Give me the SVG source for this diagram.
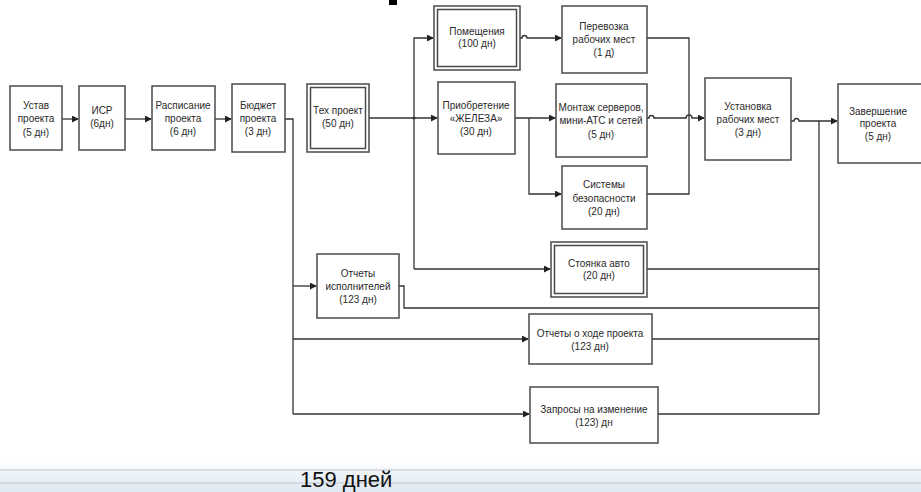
<svg xmlns="http://www.w3.org/2000/svg" width="921" height="492" viewBox="0 0 921 492">
<defs>
<marker id="arr" viewBox="0 0 8 8" refX="7" refY="4" markerWidth="7" markerHeight="7" markerUnits="userSpaceOnUse" orient="auto">
<path d="M0,0 L8,4 L0,8 Z" fill="#222"/>
</marker>
<linearGradient id="band" x1="0" y1="0" x2="0" y2="1">
<stop offset="0" stop-color="#ffffff"/>
<stop offset="0.3" stop-color="#f0f4f8"/>
<stop offset="1" stop-color="#dfe9f3"/>
</linearGradient>
</defs>
<style>
.box{fill:#fff;stroke:#4a4a4a;stroke-width:1.5}
.t{font-family:"Liberation Sans",Arial,sans-serif;font-size:10px;fill:#2a2a2a;text-anchor:middle}
.c{fill:none;stroke:#333;stroke-width:1.3}
</style>
<rect x="0" y="0" width="921" height="492" fill="#fff"/>
<rect x="0" y="462" width="921" height="30" fill="url(#band)"/>
<line x1="0" y1="470" x2="921" y2="470" stroke="#c4c8cc" stroke-width="1"/>
<line x1="0" y1="483" x2="921" y2="483" stroke="#c0c6cc" stroke-width="1"/>
<rect x="389" y="0" width="8" height="5" fill="#000"/>

<g id="connectors">
<path class="c" d="M62,119 H78" marker-end="url(#arr)"/>
<path class="c" d="M125,119 H151" marker-end="url(#arr)"/>
<path class="c" d="M215,119 H231" marker-end="url(#arr)"/>
<path class="c" d="M285,119 H293 V414"/>
<path class="c" d="M369,118 H437" marker-end="url(#arr)"/>
<circle cx="414" cy="118" r="1.6" fill="#333"/>
<path class="c" d="M414,269 V38 H433" marker-end="url(#arr)"/>
<path class="c" d="M414,269 H550" marker-end="url(#arr)"/>
<path class="c" d="M520,38 H522 a2.5,2.5 0 0 1 5,0 H561" marker-end="url(#arr)"/>
<path class="c" d="M515,118 H555" marker-end="url(#arr)"/>
<path class="c" d="M529,118 V194 H561" marker-end="url(#arr)"/>
<path class="c" d="M647,38 H689 V194 H647"/>
<path class="c" d="M647,118 H649 a2.5,2.5 0 0 1 5,0 H686 a3,3 0 0 1 6,0 H704" marker-end="url(#arr)"/>
<path class="c" d="M791,121 H794 a2.5,2.5 0 0 1 5,0 H837" marker-end="url(#arr)"/>
<path class="c" d="M819,121 V414"/>
<path class="c" d="M647,269 H819"/>
<path class="c" d="M293,286 H316" marker-end="url(#arr)"/>
<path class="c" d="M399,286 H404 V308 H819"/>
<path class="c" d="M293,339 H528" marker-end="url(#arr)"/>
<path class="c" d="M652,339 H819"/>
<path class="c" d="M293,414 H529" marker-end="url(#arr)"/>
<path class="c" d="M658,414 H819"/>
</g>

<g id="n-ustav"><rect class="box" x="10" y="86" width="52" height="64"/>
<text class="t" x="36" y="109">Устав</text><text class="t" x="36" y="122">проекта</text><text class="t" x="36" y="136">(5 дн)</text></g>
<g id="n-isr"><rect class="box" x="79" y="86" width="46" height="64"/>
<text class="t" x="102" y="114">ИСР</text><text class="t" x="102" y="127">(6дн)</text></g>
<g id="n-raspisanie"><rect class="box" x="152" y="86" width="63" height="64"/>
<text class="t" x="183" y="108.5">Расписание</text><text class="t" x="183" y="121.5">проекта</text><text class="t" x="183" y="134.5">(6 дн)</text></g>
<g id="n-budget"><rect class="box" x="232" y="84" width="53" height="68"/>
<text class="t" x="258" y="108.5">Бюджет</text><text class="t" x="258" y="121.5">проекта</text><text class="t" x="258" y="134.5">(3 дн)</text></g>
<g id="n-tech"><rect class="box" x="307" y="84" width="62" height="68"/><rect class="box" x="310.5" y="87.5" width="55" height="61"/>
<text class="t" x="338" y="113.5">Тех проект</text><text class="t" x="338" y="126.5">(50 дн)</text></g>
<g id="n-pomesh"><rect class="box" x="434" y="6" width="86" height="64"/><rect class="box" x="437.5" y="9.5" width="79" height="57"/>
<text class="t" x="477" y="34.5">Помещения</text><text class="t" x="477" y="46.5">(100 дн)</text></g>
<g id="n-zhelezo"><rect class="box" x="438" y="82" width="77" height="72"/>
<text class="t" x="476" y="108.5">Приобретение</text><text class="t" x="476" y="121.5">«ЖЕЛЕЗА»</text><text class="t" x="476" y="134.5">(30 дн)</text></g>
<g id="n-perevozka"><rect class="box" x="562" y="6" width="85" height="67"/>
<text class="t" x="604" y="29.5">Перевозка</text><text class="t" x="604" y="42.5">рабочих мест</text><text class="t" x="604" y="55.5">(1 д)</text></g>
<g id="n-montazh"><rect class="box" x="556" y="84" width="91" height="73"/>
<text class="t" x="601" y="110.5">Монтаж серверов,</text><text class="t" x="601" y="123.5">мини-АТС и сетей</text><text class="t" x="601" y="137.5">(5 дн)</text></g>
<g id="n-sistemy"><rect class="box" x="562" y="166" width="85" height="63"/>
<text class="t" x="604" y="187.5">Системы</text><text class="t" x="604" y="201.5">безопасности</text><text class="t" x="604" y="214.5">(20 дн)</text></g>
<g id="n-ustanovka"><rect class="box" x="705" y="78" width="86" height="82"/>
<text class="t" x="748" y="109.5">Установка</text><text class="t" x="748" y="122.5">рабочих мест</text><text class="t" x="748" y="135.5">(3 дн)</text></g>
<g id="n-zavershenie"><rect class="box" x="838" y="84" width="85" height="79"/>
<text class="t" x="878" y="114.5">Завершение</text><text class="t" x="878" y="126.5">проекта</text><text class="t" x="878" y="139.5">(5 дн)</text></g>
<g id="n-stoyanka"><rect class="box" x="551" y="242" width="96" height="55"/><rect class="box" x="554.5" y="245.5" width="89" height="48"/>
<text class="t" x="599" y="266.5">Стоянка авто</text><text class="t" x="599" y="278.5">(20 дн)</text></g>
<g id="n-otchety-isp"><rect class="box" x="317" y="254" width="82" height="64"/>
<text class="t" x="358" y="276.5">Отчеты</text><text class="t" x="358" y="289.5">исполнителей</text><text class="t" x="358" y="302.5">(123 дн)</text></g>
<g id="n-otchety-hod"><rect class="box" x="529" y="314" width="123" height="50"/>
<text class="t" x="590" y="336.5">Отчеты о ходе проекта</text><text class="t" x="590" y="349.5">(123 дн)</text></g>
<g id="n-zaprosy"><rect class="box" x="530" y="387" width="128" height="56"/>
<text class="t" x="594" y="412.5">Запросы на изменение</text><text class="t" x="594" y="425.5">(123) дн</text></g>

<text x="300" y="487" font-family="'Liberation Sans',Arial,sans-serif" font-size="22" fill="#111">159 дней</text>
</svg>
